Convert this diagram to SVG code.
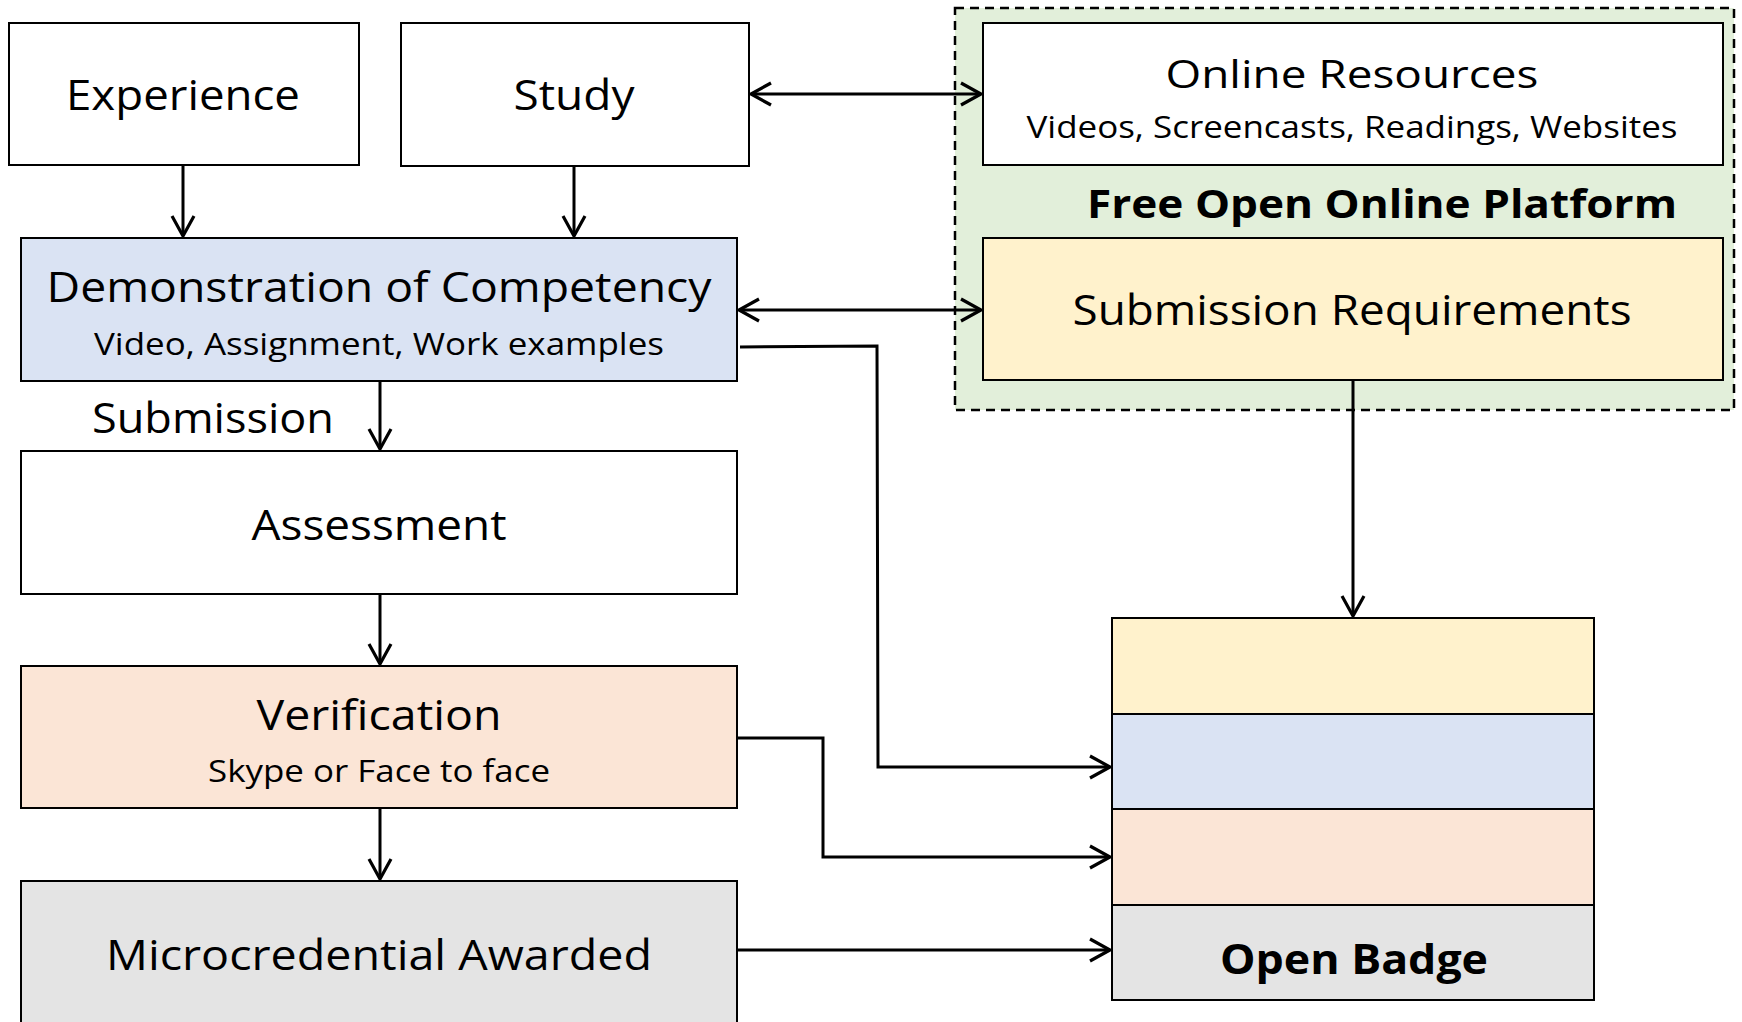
<svg xmlns="http://www.w3.org/2000/svg" width="1742" height="1022" viewBox="0 0 1742 1022">
<style>
  .box { stroke: #000; stroke-width: 2; }
  .t { font-family: "Open Sans", "Noto Sans", sans-serif; fill: #000; text-anchor: middle; }
  .b { font-weight: bold; }
  .big { font-size: 42px; }
  .mid { font-size: 39px; }
  .sm { font-size: 31px; }
  .conn { fill: none; stroke: #000; stroke-width: 3; }
</style>
<defs>
  <marker id="ah" viewBox="0 0 24 26" refX="22" refY="13" markerWidth="24" markerHeight="26" markerUnits="userSpaceOnUse" orient="auto-start-reverse">
    <path d="M2,2 L22,13 L2,24" fill="none" stroke="#000" stroke-width="3.2"/>
  </marker>
</defs>
<rect width="1742" height="1022" fill="#fff"/>

<g id="platform">
  <rect x="955" y="8" width="779" height="402" fill="#E2EFDA" stroke="#000" stroke-width="2.5" stroke-dasharray="9,6"/>
  <text class="t b mid" x="1382" y="218" textLength="590" lengthAdjust="spacingAndGlyphs">Free Open Online Platform</text>
</g>

<g id="experience">
  <rect class="box" x="9" y="23" width="350" height="142" fill="#fff"/>
  <text class="t big" x="183" y="110" textLength="234" lengthAdjust="spacingAndGlyphs">Experience</text>
</g>
<g id="study">
  <rect class="box" x="401" y="23" width="348" height="143" fill="#fff"/>
  <text class="t big" x="574" y="110" textLength="121" lengthAdjust="spacingAndGlyphs">Study</text>
</g>
<g id="demonstration">
  <rect class="box" x="21" y="238" width="716" height="143" fill="#DAE3F3"/>
  <text class="t big" x="379" y="302" textLength="665" lengthAdjust="spacingAndGlyphs">Demonstration of Competency</text>
  <text class="t sm" x="379" y="355" textLength="570" lengthAdjust="spacingAndGlyphs">Video, Assignment, Work examples</text>
</g>
<g id="submission-label">
  <text class="t big" x="213" y="433" textLength="242" lengthAdjust="spacingAndGlyphs">Submission</text>
</g>
<g id="assessment">
  <rect class="box" x="21" y="451" width="716" height="143" fill="#fff"/>
  <text class="t big" x="379" y="540" textLength="255" lengthAdjust="spacingAndGlyphs">Assessment</text>
</g>
<g id="verification">
  <rect class="box" x="21" y="666" width="716" height="142" fill="#FBE5D6"/>
  <text class="t big" x="379" y="730" textLength="245" lengthAdjust="spacingAndGlyphs">Verification</text>
  <text class="t sm" x="379" y="782" textLength="342" lengthAdjust="spacingAndGlyphs">Skype or Face to face</text>
</g>
<g id="microcredential">
  <rect class="box" x="21" y="881" width="716" height="145" fill="#E4E4E4"/>
  <text class="t big" x="379" y="970" textLength="546" lengthAdjust="spacingAndGlyphs">Microcredential Awarded</text>
</g>
<g id="online-resources">
  <rect class="box" x="983" y="23" width="740" height="142" fill="#fff"/>
  <text class="t mid" x="1352" y="88" textLength="373" lengthAdjust="spacingAndGlyphs">Online Resources</text>
  <text class="t sm" x="1352" y="138" textLength="651" lengthAdjust="spacingAndGlyphs">Videos, Screencasts, Readings, Websites</text>
</g>
<g id="submission-requirements">
  <rect class="box" x="983" y="238" width="740" height="142" fill="#FFF2CC"/>
  <text class="t big" x="1352" y="325" textLength="559" lengthAdjust="spacingAndGlyphs">Submission Requirements</text>
</g>
<g id="open-badge">
  <rect class="box" x="1112" y="618" width="482" height="96" fill="#FFF2CC"/>
  <rect class="box" x="1112" y="714" width="482" height="95" fill="#DAE3F3"/>
  <rect class="box" x="1112" y="809" width="482" height="96" fill="#FBE5D6"/>
  <rect class="box" x="1112" y="905" width="482" height="95" fill="#E4E4E4"/>
  <text class="t b big" x="1354" y="974" textLength="268" lengthAdjust="spacingAndGlyphs">Open Badge</text>
</g>

<g id="connectors">
  <line class="conn" x1="183" y1="165" x2="183" y2="236" marker-end="url(#ah)"/>
  <line class="conn" x1="574" y1="166" x2="574" y2="236" marker-end="url(#ah)"/>
  <line class="conn" x1="751" y1="94" x2="981" y2="94" marker-start="url(#ah)" marker-end="url(#ah)"/>
  <line class="conn" x1="739" y1="310" x2="981" y2="310" marker-start="url(#ah)" marker-end="url(#ah)"/>
  <line class="conn" x1="380" y1="381" x2="380" y2="449" marker-end="url(#ah)"/>
  <line class="conn" x1="380" y1="594" x2="380" y2="664" marker-end="url(#ah)"/>
  <line class="conn" x1="380" y1="808" x2="380" y2="879" marker-end="url(#ah)"/>
  <line class="conn" x1="1353" y1="380" x2="1353" y2="616" marker-end="url(#ah)"/>
  <polyline class="conn" points="740,347 877,346 878,767 1110,767" marker-end="url(#ah)"/>
  <polyline class="conn" points="737,738 823,738 823,857 1110,857" marker-end="url(#ah)"/>
  <line class="conn" x1="737" y1="950" x2="1110" y2="950" marker-end="url(#ah)"/>
</g>
</svg>
